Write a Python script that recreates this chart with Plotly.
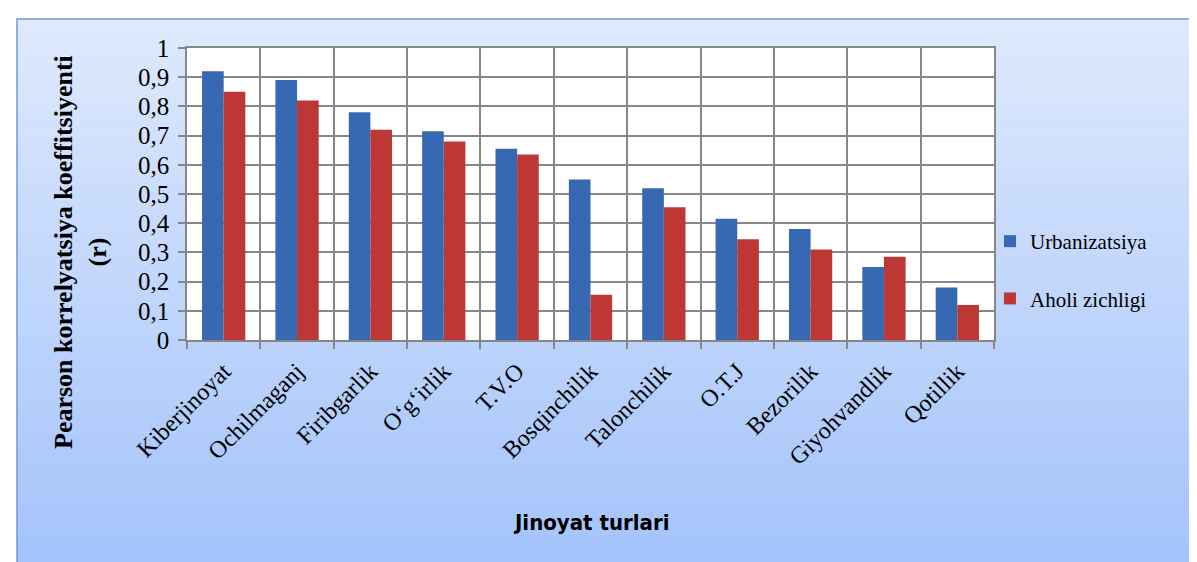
import plotly.graph_objects as go

categories = ["Kiberjinoyat", "Ochilmaganj", "Firibgarlik", "O‘g‘irlik", "T.V.O",
              "Bosqinchilik", "Talonchilik", "O.T.J", "Bezorilik", "Giyohvandlik", "Qotillik"]
urbanizatsiya = [0.92, 0.89, 0.78, 0.715, 0.655, 0.55, 0.52, 0.415, 0.38, 0.25, 0.18]
aholi_zichligi = [0.85, 0.82, 0.72, 0.68, 0.635, 0.155, 0.455, 0.345, 0.31, 0.285, 0.12]
y_tickvals = [0, 0.1, 0.2, 0.3, 0.4, 0.5, 0.6, 0.7, 0.8, 0.9, 1.0]
y_ticktext = ["0", "0,1", "0,2", "0,3", "0,4", "0,5", "0,6", "0,7", "0,8", "0,9", "1"]

W, H = 1197, 562
ML, MR, MT, MB = 179, 211, 40, 230
pw = W - ML - MR
ph = H - MT - MB

serif = "Liberation Serif, Times New Roman, serif"

fig = go.Figure()
fig.add_trace(go.Bar(name="Urbanizatsiya", x=categories, y=urbanizatsiya,
                     marker=dict(color="#3769b2", line=dict(width=0)),
                     legendgroup="a"))
fig.add_trace(go.Bar(name="Aholi zichligi", x=categories, y=aholi_zichligi,
                     marker=dict(color="#bd3835", line=dict(width=0)),
                     legendgroup="b"))

def px_to_paper_x(px):
    return (px - ML) / pw

def px_to_paper_y(py):
    return (H - MB - py) / ph

shapes = []
top_c = (222, 233, 252)
bot_c = (163, 195, 251)
x0p, x1p = 9, 1190
y0p, y1p = 11, 562
n = 60
for i in range(n):
    t = i / (n - 1)
    c = tuple(int(round(top_c[k] + (bot_c[k] - top_c[k]) * t)) for k in range(3))
    ya = y0p + (y1p - y0p) * i / n
    yb = y0p + (y1p - y0p) * (i + 1) / n + 0.6
    shapes.append(dict(type="rect", xref="paper", yref="paper",
                       x0=px_to_paper_x(x0p), x1=px_to_paper_x(x1p),
                       y0=px_to_paper_y(ya), y1=px_to_paper_y(min(yb, y1p)),
                       line=dict(width=0), fillcolor="rgb(%d,%d,%d)" % c, layer="below"))
shapes.append(dict(type="rect", xref="paper", yref="paper",
                   x0=px_to_paper_x(x0p), x1=px_to_paper_x(x1p),
                   y0=px_to_paper_y(y0p), y1=px_to_paper_y(y1p + 5),
                   line=dict(width=1.5, color="#6f98d3"), fillcolor="rgba(0,0,0,0)", layer="below"))
shapes.append(dict(type="rect", xref="x domain", yref="y domain", x0=0, x1=1, y0=0, y1=1,
                   line=dict(width=0), fillcolor="white", layer="below"))

fig.update_layout(
    width=W, height=H,
    margin=dict(l=ML, r=MR, t=MT, b=MB, pad=0),
    paper_bgcolor="white", plot_bgcolor="white",
    barmode="group", bargap=0.41, bargroupgap=0.0,
    shapes=shapes,
    showlegend=True,
    legend=dict(x=0.995, y=px_to_paper_y(213), xanchor="left", yanchor="top",
                font=dict(family=serif, size=21, color="black"),
                bgcolor="rgba(0,0,0,0)", tracegroupgap=27, traceorder="grouped",
                itemwidth=30),
    font=dict(family=serif, color="black"),
)

fig.update_xaxes(
    type="category", tickson="boundaries", showgrid=True, gridcolor="#878787", gridwidth=1.5,
    ticks="outside", ticklen=7, tickcolor="#878787", tickwidth=1.5,
    showline=True, linecolor="#878787", linewidth=1.5, mirror=True,
    tickangle=-45, tickfont=dict(family=serif, size=24, color="black"),
    ticklabelstandoff=6,
)
fig.update_yaxes(
    range=[0, 1], tickvals=y_tickvals, ticktext=y_ticktext,
    showgrid=True, gridcolor="#878787", gridwidth=1.5,
    ticks="outside", ticklen=7, tickcolor="#878787", tickwidth=1.5,
    showline=True, linecolor="#878787", linewidth=1.5, mirror=True,
    tickfont=dict(family=serif, size=25, color="black"), zeroline=False,
    ticklabelstandoff=4,
)

fig.add_annotation(text="<b>Pearson korrelyatsiya koeffitsiyenti<br>(r)</b>",
                   xref="paper", yref="paper", x=0, y=px_to_paper_y(244),
                   xshift=72 - ML, textangle=-90, showarrow=False,
                   xanchor="center", yanchor="middle",
                   font=dict(family=serif, size=26, color="black"))
fig.add_annotation(text="<b>Jinoyat turlari</b>",
                   xref="paper", yref="paper", x=0.5, y=px_to_paper_y(514),
                   showarrow=False, xanchor="center", yanchor="middle",
                   font=dict(family="DejaVu Sans Condensed, DejaVu Sans, sans-serif", size=22, color="black"))

fig.write_html("out.html")
